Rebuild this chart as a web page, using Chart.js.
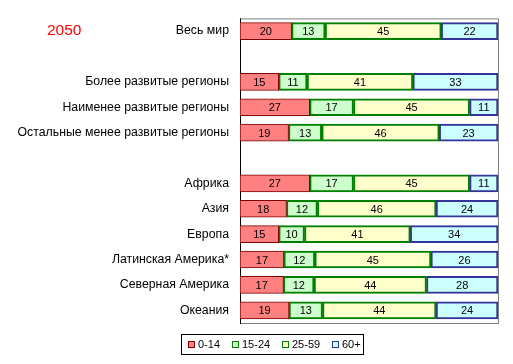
<!DOCTYPE html>
<html lang="ru">
<head>
  <meta charset="UTF-8">
  <title>2050</title>
  <script src="https://cdn.jsdelivr.net/npm/chart.js"></script>
  <style>
    body {
      margin: 0;
      background: #fff;
      font-family: "Liberation Sans", Arial, sans-serif;
    }
    .wrap {
      position: relative;
      width: 513px;
      height: 364px;
    }
    .year {
      position: absolute;
      left: 47px;
      top: 21px;
      font-size: 15.5px;
      color: #ff0000;
    }
    .legend {
      position: absolute;
      left: 181px;
      top: 334px;
      width: 181px;
      height: 19px;
      border: 1px solid #000;
      font-size: 11px;
      line-height: 19px;
      white-space: nowrap;
    }
    .legend span.item {
      position: absolute;
      top: 0;
    }
    .legend i {
      display: inline-block;
      width: 5px;
      height: 5px;
      margin-right: 3px;
      vertical-align: 0px;
    }
  </style>
</head>
<body>
  <div class="wrap">
    <canvas id="chart" width="513" height="364"></canvas>
    <div class="year">2050</div>
    <div class="legend" id="legend"></div>
  </div>

  <script>
    // data (blank rows are spacers)
    const categories = ["Весь мир", "", "Более развитые регионы", "Наименее развитые регионы",
      "Остальные менее развитые регионы", "", "Африка", "Азия", "Европа",
      "Латинская Америка*", "Северная Америка", "Океания"];
    const seriesNames = ["0-14", "15-24", "25-59", "60+"];
    const age0_14   = [20, null, 15, 27, 19, null, 27, 18, 15, 17, 17, 19];
    const age15_24  = [13, null, 11, 17, 13, null, 17, 12, 10, 12, 12, 13];
    const age25_59  = [45, null, 41, 45, 46, null, 45, 46, 41, 45, 44, 44];
    const age60plus = [22, null, 33, 11, 23, null, 11, 24, 34, 26, 28, 24];

    const fills = ["#ff8080", "#ccffcc", "#ffffcc", "#ccffff"];
    const borders = ["#800000", "#008000", "#008000", "#333399"];
    const borderWidths = [1, 2, 2, 2];

    const series = [age0_14, age15_24, age25_59, age60plus];

    // 100% stacked: share of each row total
    const totals = categories.map((c, i) =>
      series.reduce((s, arr) => s + (arr[i] || 0), 0));

    const datasets = series.map((arr, k) => ({
      label: seriesNames[k],
      data: arr.map((v, i) => v == null ? null : v / totals[i] * 100),
      raw: arr,
      backgroundColor: fills[k],
      borderColor: borders[k],
      borderWidth: borderWidths[k],
      borderSkipped: false,
      barThickness: 17
    }));

    // plot frame: grey box, black left axis
    const framePlugin = {
      id: "frame",
      beforeDatasetsDraw(chart) {
        const a = chart.chartArea;
        const ctx = chart.ctx;
        ctx.save();
        ctx.strokeStyle = "#808080";
        ctx.lineWidth = 1;
        ctx.strokeRect(a.left + 0.5, a.top + 0.5, a.right - a.left, a.bottom - a.top);
        ctx.strokeStyle = "#000";
        ctx.beginPath();
        ctx.moveTo(a.left + 0.5, a.top);
        ctx.lineTo(a.left + 0.5, a.bottom + 1);
        ctx.stroke();
        ctx.restore();
      }
    };

    // numbers inside the bars
    const valuePlugin = {
      id: "values",
      afterDatasetsDraw(chart) {
        const ctx = chart.ctx;
        ctx.save();
        ctx.font = "11px 'Liberation Sans', Arial, sans-serif";
        ctx.fillStyle = "#000";
        ctx.textAlign = "center";
        ctx.textBaseline = "middle";
        chart.data.datasets.forEach((ds, k) => {
          chart.getDatasetMeta(k).data.forEach((el, i) => {
            const v = ds.raw[i];
            if (v == null) return;
            ctx.fillText(String(v), (el.x + el.base) / 2, el.y + 1);
          });
        });
        ctx.restore();
      }
    };

    new Chart(document.getElementById("chart"), {
      type: "bar",
      data: { labels: categories, datasets: datasets },
      options: {
        indexAxis: "y",
        responsive: false,
        animation: false,
        layout: { padding: { left: 0, right: 15, top: 13, bottom: 41 } },
        plugins: { legend: { display: false }, tooltip: { enabled: false } },
        scales: {
          x: { stacked: true, min: 0, max: 100, display: false },
          y: {
            stacked: true,
            grid: { display: false, drawTicks: false },
            border: { display: false },
            ticks: {
              padding: 11,
              color: "#000",
              font: { family: "'Liberation Sans', Arial, sans-serif", size: 12.3 },
              autoSkip: false
            },
            afterFit(scale) { scale.width = 240; }
          }
        }
      },
      plugins: [framePlugin, valuePlugin]
    });

    // legend built from the series names
    const legendEl = document.getElementById("legend");
    const itemLeft = [6, 50, 100, 150];
    seriesNames.forEach((name, k) => {
      const item = document.createElement("span");
      item.className = "item";
      item.style.left = itemLeft[k] + "px";
      const box = document.createElement("i");
      box.style.background = fills[k];
      box.style.border = "1px solid " + borders[k];
      item.appendChild(box);
      item.appendChild(document.createTextNode(name));
      legendEl.appendChild(item);
    });
  </script>
</body>
</html>
